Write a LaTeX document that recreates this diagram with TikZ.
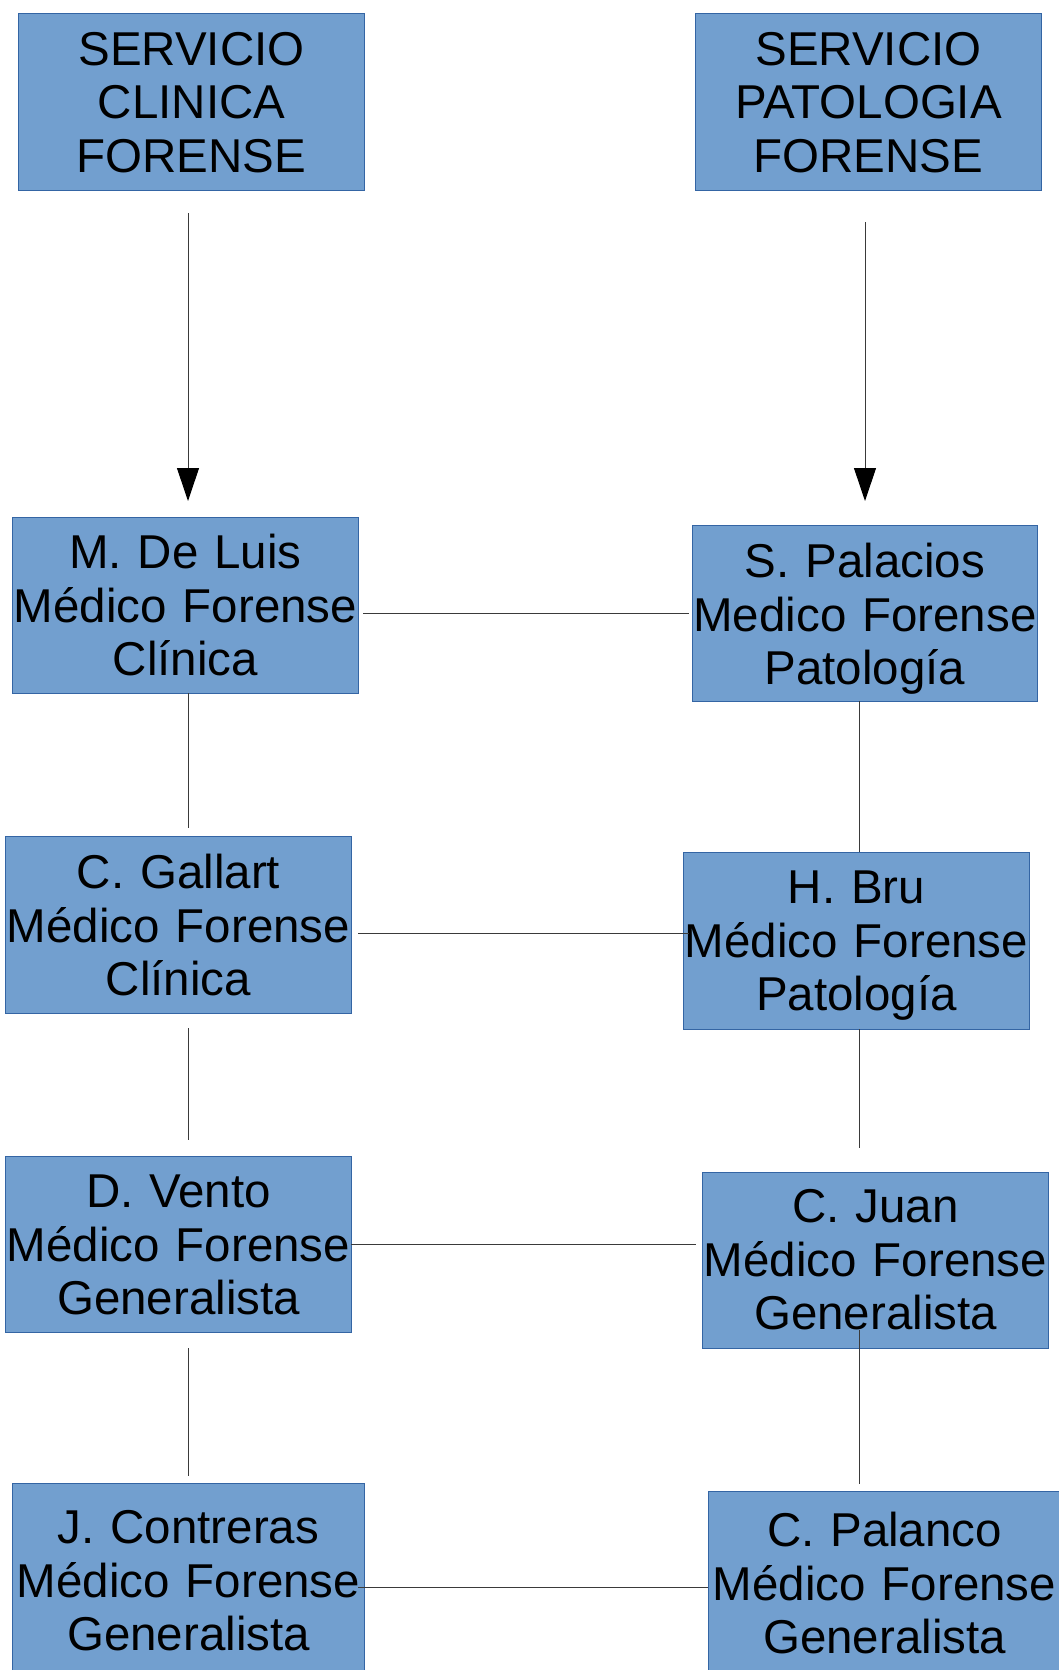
\documentclass[tikz,border=0pt]{standalone}
\usepackage{fontspec}
\setmainfont{Liberation Sans}
\usetikzlibrary{arrows.meta}
\definecolor{boxfill}{HTML}{729FCF}
\definecolor{boxline}{HTML}{3465A4}
\definecolor{conn}{HTML}{3A3A3A}
\begin{document}
\begin{tikzpicture}[x=1pt,y=-1pt,
  orgbox/.style={draw=boxline, fill=boxfill, line width=1pt, inner sep=0pt,
    align=center, anchor=north west, text=black,
    font=\fontsize{47.5}{53.5}\selectfont},
  link/.style={draw=conn, line width=1pt},
  arrowlink/.style={link, -{Triangle[width=22pt,length=33pt,color=black]}}]
\useasboundingbox (0,0) rectangle (1059,1670);
\clip (0,0) rectangle (1059,1670);
% boxes
\node[orgbox, text width=346pt, text height=52pt, text depth=125pt] (b1) at (18,13) {SERVICIO\\CLINICA\\FORENSE};
\node[orgbox, text width=346pt, text height=52pt, text depth=125pt] (b2) at (695,13) {SERVICIO\\PATOLOGIA\\FORENSE};
\node[orgbox, text width=346pt, text height=51pt, text depth=125pt] (b3) at (12,517) {M. De Luis\\Médico Forense\\Clínica};
\node[orgbox, text width=345pt, text height=52pt, text depth=124pt] (b4) at (692,525) {S. Palacios\\Medico Forense\\Patología};
\node[orgbox, text width=346pt, text height=52pt, text depth=125pt] (b5) at (5,836) {C. Gallart\\Médico Forense\\Clínica};
\node[orgbox, text width=346pt, text height=51pt, text depth=126pt] (b6) at (683,852) {H. Bru\\Médico Forense\\Patología};
\node[orgbox, text width=346pt, text height=51pt, text depth=125pt] (b7) at (5,1156) {D. Vento\\Médico Forense\\Generalista};
\node[orgbox, text width=346pt, text height=50pt, text depth=126pt] (b8) at (702,1172) {C. Juan\\Médico Forense\\Generalista};
\node[orgbox, text width=352pt, text height=60pt, text depth=135pt] (b9) at (12,1483) {J. Contreras\\Médico Forense\\Generalista};
\node[orgbox, text width=352pt, text height=55pt, text depth=135pt] (b10) at (708,1491) {C. Palanco\\Médico Forense\\Generalista};
% connector end points
\coordinate (a1s) at (188,213);  \coordinate (a1e) at (188,501);
\coordinate (a2s) at (865,222);  \coordinate (a2e) at (865,501);
\coordinate (h1s) at (363,613);  \coordinate (h1e) at (689,613);
\coordinate (v1s) at (188,693);  \coordinate (v1e) at (188,828);
\coordinate (v2s) at (859,701);  \coordinate (v2e) at (859,852);
\coordinate (h2s) at (358,933);  \coordinate (h2e) at (689,933);
\coordinate (v3s) at (188,1028); \coordinate (v3e) at (188,1140);
\coordinate (v4s) at (859,1029); \coordinate (v4e) at (859,1148);
\coordinate (h3s) at (351,1244); \coordinate (h3e) at (696,1244);
\coordinate (v5s) at (188,1348); \coordinate (v5e) at (188,1476);
\coordinate (v6s) at (859,1330); \coordinate (v6e) at (859,1484);
\coordinate (h4s) at (358,1587); \coordinate (h4e) at (708,1587);
% connectors
\draw[arrowlink] (a1s) -- (a1e);
\draw[arrowlink] (a2s) -- (a2e);
\draw[link] (h1s) -- (h1e);
\draw[link] (v1s) -- (v1e);
\draw[link] (v2s) -- (v2e);
\draw[link] (h2s) -- (h2e);
\draw[link] (v3s) -- (v3e);
\draw[link] (v4s) -- (v4e);
\draw[link] (h3s) -- (h3e);
\draw[link] (v5s) -- (v5e);
\draw[link] (v6s) -- (v6e);
\draw[link] (h4s) -- (h4e);
\end{tikzpicture}
\end{document}
